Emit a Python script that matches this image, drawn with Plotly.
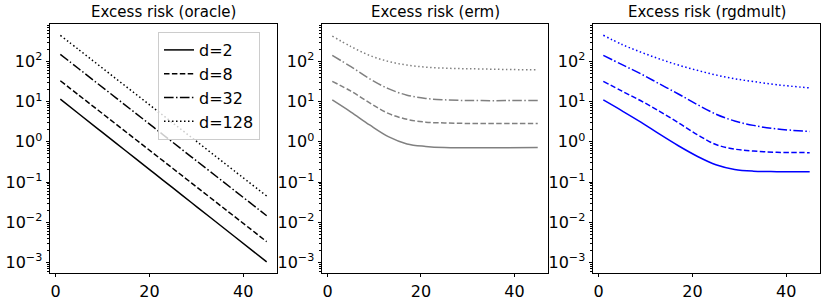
import plotly.graph_objects as go

# ---- data ----
steps = [1, 5, 9, 13, 17, 21, 25, 29, 33, 38, 45]
dims = ["d=2", "d=8", "d=32", "d=128"]

oracle_d2 = [11.5, 4.92, 2.11, 0.906, 0.389, 0.167, 0.0715, 0.0307, 0.01316, 0.00457, 0.00104]
oracle_d8 = [33, 14.3, 6.2, 2.68, 1.16, 0.503, 0.218, 0.0944, 0.0408, 0.01435, 0.0033]
oracle_d32 = [150, 64.7, 27.9, 12.1, 5.21, 2.25, 0.97, 0.419, 0.181, 0.0634, 0.01456]
oracle_d128 = [445, 193, 83.6, 36.1, 15.7, 6.79, 2.94, 1.28, 0.552, 0.194, 0.045]

erm_d2 = [11, 5.5, 2.63, 1.35, 0.89, 0.77, 0.72, 0.71, 0.71, 0.71, 0.72]
erm_d8 = [32, 18.2, 9.3, 5.1, 3.63, 3.09, 2.95, 2.88, 2.88, 2.88, 2.88]
erm_d32 = [141, 74, 37, 21, 14.5, 12.0, 11.1, 10.7, 10.6, 10.6, 10.6]
erm_d128 = [427, 234, 141, 100, 81, 72, 68, 66, 65, 63, 62]

rgd_d2 = [11, 5.9, 3.1, 1.55, 0.80, 0.44, 0.27, 0.206, 0.187, 0.182, 0.18]
rgd_d8 = [32, 18.2, 10.5, 5.75, 3.0, 1.52, 0.86, 0.66, 0.59, 0.55, 0.54]
rgd_d32 = [141, 83, 49, 27.5, 15.5, 8.5, 4.9, 3.3, 2.57, 2.09, 1.82]
rgd_d128 = [447, 263, 170, 115, 81, 60, 46, 37, 31.6, 26.3, 21.9]

titles = ["Excess risk (oracle)", "Excess risk (erm)", "Excess risk (rgdmult)"]
x_ticks = [0, 20, 40]
y_ticks = [1e-3, 1e-2, 1e-1, 1e0, 1e1, 1e2]
y_ticktext = ["10<sup>\u22123</sup>", "10<sup>\u22122</sup>", "10<sup>\u22121</sup>",
              "10<sup>0</sup>", "10<sup>1</sup>", "10<sup>2</sup>"]

# ---- styling ----
W, H = 830, 303
dash_styles = ["solid", "5.5px,2.4px", "9.6px,2.4px,1.5px,2.4px", "1.5px,2.5px"]
panel_colors = ["#000000", "#808080", "#0000ff"]
panel_data = [
    [oracle_d2, oracle_d8, oracle_d32, oracle_d128],
    [erm_d2, erm_d8, erm_d32, erm_d128],
    [rgd_d2, rgd_d8, rgd_d32, rgd_d128],
]
x_px = [(50, 277), (322, 548), (593, 820)]
y_top, y_bot = 24, 273

font_family = "DejaVu Sans"
minor_vals = [m * 10 ** k for k in range(-4, 3) for m in range(2, 10)]

fig = go.Figure()
for p in range(3):
    xa = "x" if p == 0 else f"x{p+1}"
    ya = "y" if p == 0 else f"y{p+1}"
    for i, series in enumerate(panel_data[p]):
        fig.add_trace(go.Scatter(
            x=steps, y=series, mode="lines", name=dims[i],
            line=dict(color=panel_colors[p], width=1.5, dash=dash_styles[i],
                      shape="spline", smoothing=1.0),
            xaxis=xa, yaxis=ya, showlegend=(p == 0),
        ))

axis_common = dict(showline=True, mirror=True, linecolor="#000000", linewidth=0.9,
                   showgrid=False, zeroline=False, ticks="outside", ticklen=3.5,
                   tickwidth=0.9, tickcolor="#000000",
                   tickfont=dict(family=font_family, size=16, color="#000000"),
                   automargin=False)

layout = dict(width=W, height=H, margin=dict(l=0, r=0, t=0, b=0),
              paper_bgcolor="white", plot_bgcolor="white",
              font=dict(family=font_family, color="#000000"))
for p in range(3):
    sx = "xaxis" if p == 0 else f"xaxis{p+1}"
    sy = "yaxis" if p == 0 else f"yaxis{p+1}"
    ya = "y" if p == 0 else f"y{p+1}"
    xa = "x" if p == 0 else f"x{p+1}"
    layout[sx] = dict(axis_common, domain=[x_px[p][0] / W, x_px[p][1] / W],
                      range=[-1.2, 47.2], tickvals=x_ticks, anchor=ya)
    layout[sy] = dict(axis_common, type="log",
                      domain=[(H - y_bot) / H, (H - y_top) / H],
                      range=[-3.26, 2.93], tickvals=y_ticks, ticktext=y_ticktext,
                      anchor=xa,
                      minor=dict(tickvals=minor_vals, ticks="outside", ticklen=2,
                                 tickwidth=0.6, tickcolor="#000000", showgrid=False))
fig.update_layout(**layout)

for p in range(3):
    fig.add_annotation(text=titles[p], xref="paper", yref="paper",
                       x=(x_px[p][0] + x_px[p][1]) / 2 / W, y=(H - 12) / H,
                       xanchor="center", yanchor="middle", showarrow=False,
                       font=dict(family=font_family, size=15, color="#000000"))

fig.update_layout(legend=dict(x=158 / W, y=(H - 32) / H, xanchor="left", yanchor="top",
                              bgcolor="rgba(255,255,255,0.8)", bordercolor="#cccccc",
                              borderwidth=1, font=dict(family=font_family, size=16),
                              tracegroupgap=0, itemwidth=30))

fig.write_html("out.html", config={"displayModeBar": False},
               post_script="document.body.style.margin='0px';")
